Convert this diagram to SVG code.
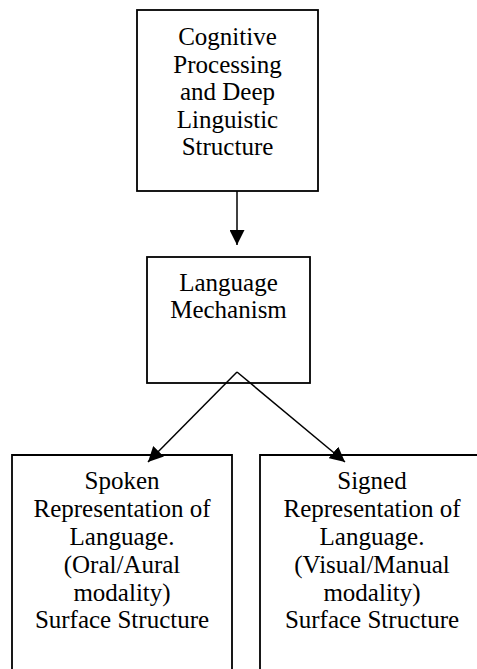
<svg xmlns="http://www.w3.org/2000/svg" width="477" height="669" viewBox="0 0 477 669">
<style>
.box{fill:#fff;stroke:#000;stroke-width:1.8}
.t{font-family:"Liberation Serif","Times New Roman",serif;font-size:25px;fill:#000;text-anchor:middle}
.c{stroke:#000;stroke-width:1.5;fill:none}
</style>
<defs>
<marker id="ah2" viewBox="0 0 10 10" refX="10" refY="5" markerWidth="15" markerHeight="15" markerUnits="userSpaceOnUse" orient="auto">
<path d="M0,0 L10,5 L0,10 z" fill="#000"/>
</marker>
</defs>
<rect width="477" height="669" fill="#fff"/>
<g id="top">
<rect class="box" x="137" y="10" width="181" height="181"/>
<text class="t" x="227.5" y="45">Cognitive</text>
<text class="t" x="227.5" y="73">Processing</text>
<text class="t" x="227.5" y="100">and Deep</text>
<text class="t" x="227.5" y="128">Linguistic</text>
<text class="t" x="227.5" y="155">Structure</text>
</g>
<g id="mech">
<rect class="box" x="147" y="257" width="163" height="126"/>
<text class="t" x="228.5" y="291">Language</text>
<text class="t" x="228.5" y="318">Mechanism</text>
</g>
<g id="spoken">
<path class="box" d="M12,669 V455 H232 V669"/>
<text class="t" x="122" y="489">Spoken</text>
<text class="t" x="122" y="517">Representation of</text>
<text class="t" x="122" y="545">Language.</text>
<text class="t" x="122" y="573">(Oral/Aural</text>
<text class="t" x="122" y="601">modality)</text>
<text class="t" x="122" y="628">Surface Structure</text>
</g>
<g id="signed">
<path class="box" d="M260,669 V455 H478"/>
<text class="t" x="372" y="489">Signed</text>
<text class="t" x="372" y="517">Representation of</text>
<text class="t" x="372" y="545">Language.</text>
<text class="t" x="372" y="573">(Visual/Manual</text>
<text class="t" x="372" y="601">modality)</text>
<text class="t" x="372" y="628">Surface Structure</text>
</g>
<g id="connectors">
<line class="c" x1="237" y1="191" x2="237" y2="245" marker-end="url(#ah2)"/>
<line class="c" x1="237" y1="372" x2="148" y2="462" marker-end="url(#ah2)"/>
<line class="c" x1="237" y1="372" x2="345" y2="462" marker-end="url(#ah2)"/>
</g>
</svg>
